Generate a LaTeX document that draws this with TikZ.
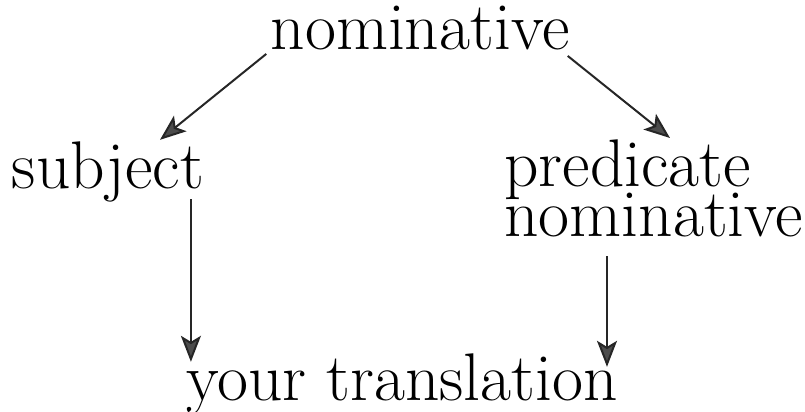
\documentclass[tikz,border=0pt]{standalone}
\usetikzlibrary{arrows.meta,positioning}

\begin{document}
\begin{tikzpicture}[x=0.5pt,y=-0.5pt,
    word/.style={inner sep=0pt, font={\fontsize{33.7}{25}\selectfont\lineskiplimit=-100pt}},
    arr/.style={line width=1pt, draw=black!85, -{Stealth[length=13pt,width=10pt,inset=3pt,fill=black!70]}}]

    \useasboundingbox (0,0) rectangle (805,412);

    \node [word, anchor=base] (nom) at (420,49) {nominative}; % case at the top
    \node [word, anchor=base] (subj) at (108,188) {subject}; % left use
    \node [word, anchor=north west, align=left] (pred) at (504,139) {predicate\\nominative}; % right use
    \node [word, anchor=base] (trans) at (402,400) {your translation}; % where both end up

    \coordinate (sdrop) at ([shift={(-13.5,-3)}]subj.south east); % start of left down arrow
    \coordinate (pdrop) at ([shift={(103,19)}]pred.south west); % start of right down arrow

    \draw [arr] ([shift={(-4,4)}]nom.south west) -- ([shift={(52,-1)}]subj.north);
    \draw [arr] ([shift={(-2,6)}]nom.south east) -- ([shift={(166,-1)}]pred.north west);
    \draw [arr] (sdrop) -- ([shift={(0,9)}]sdrop |- trans.north);
    \draw [arr] (pdrop) -- ([shift={(0,14)}]pdrop |- trans.north);

\end{tikzpicture}
\end{document}
